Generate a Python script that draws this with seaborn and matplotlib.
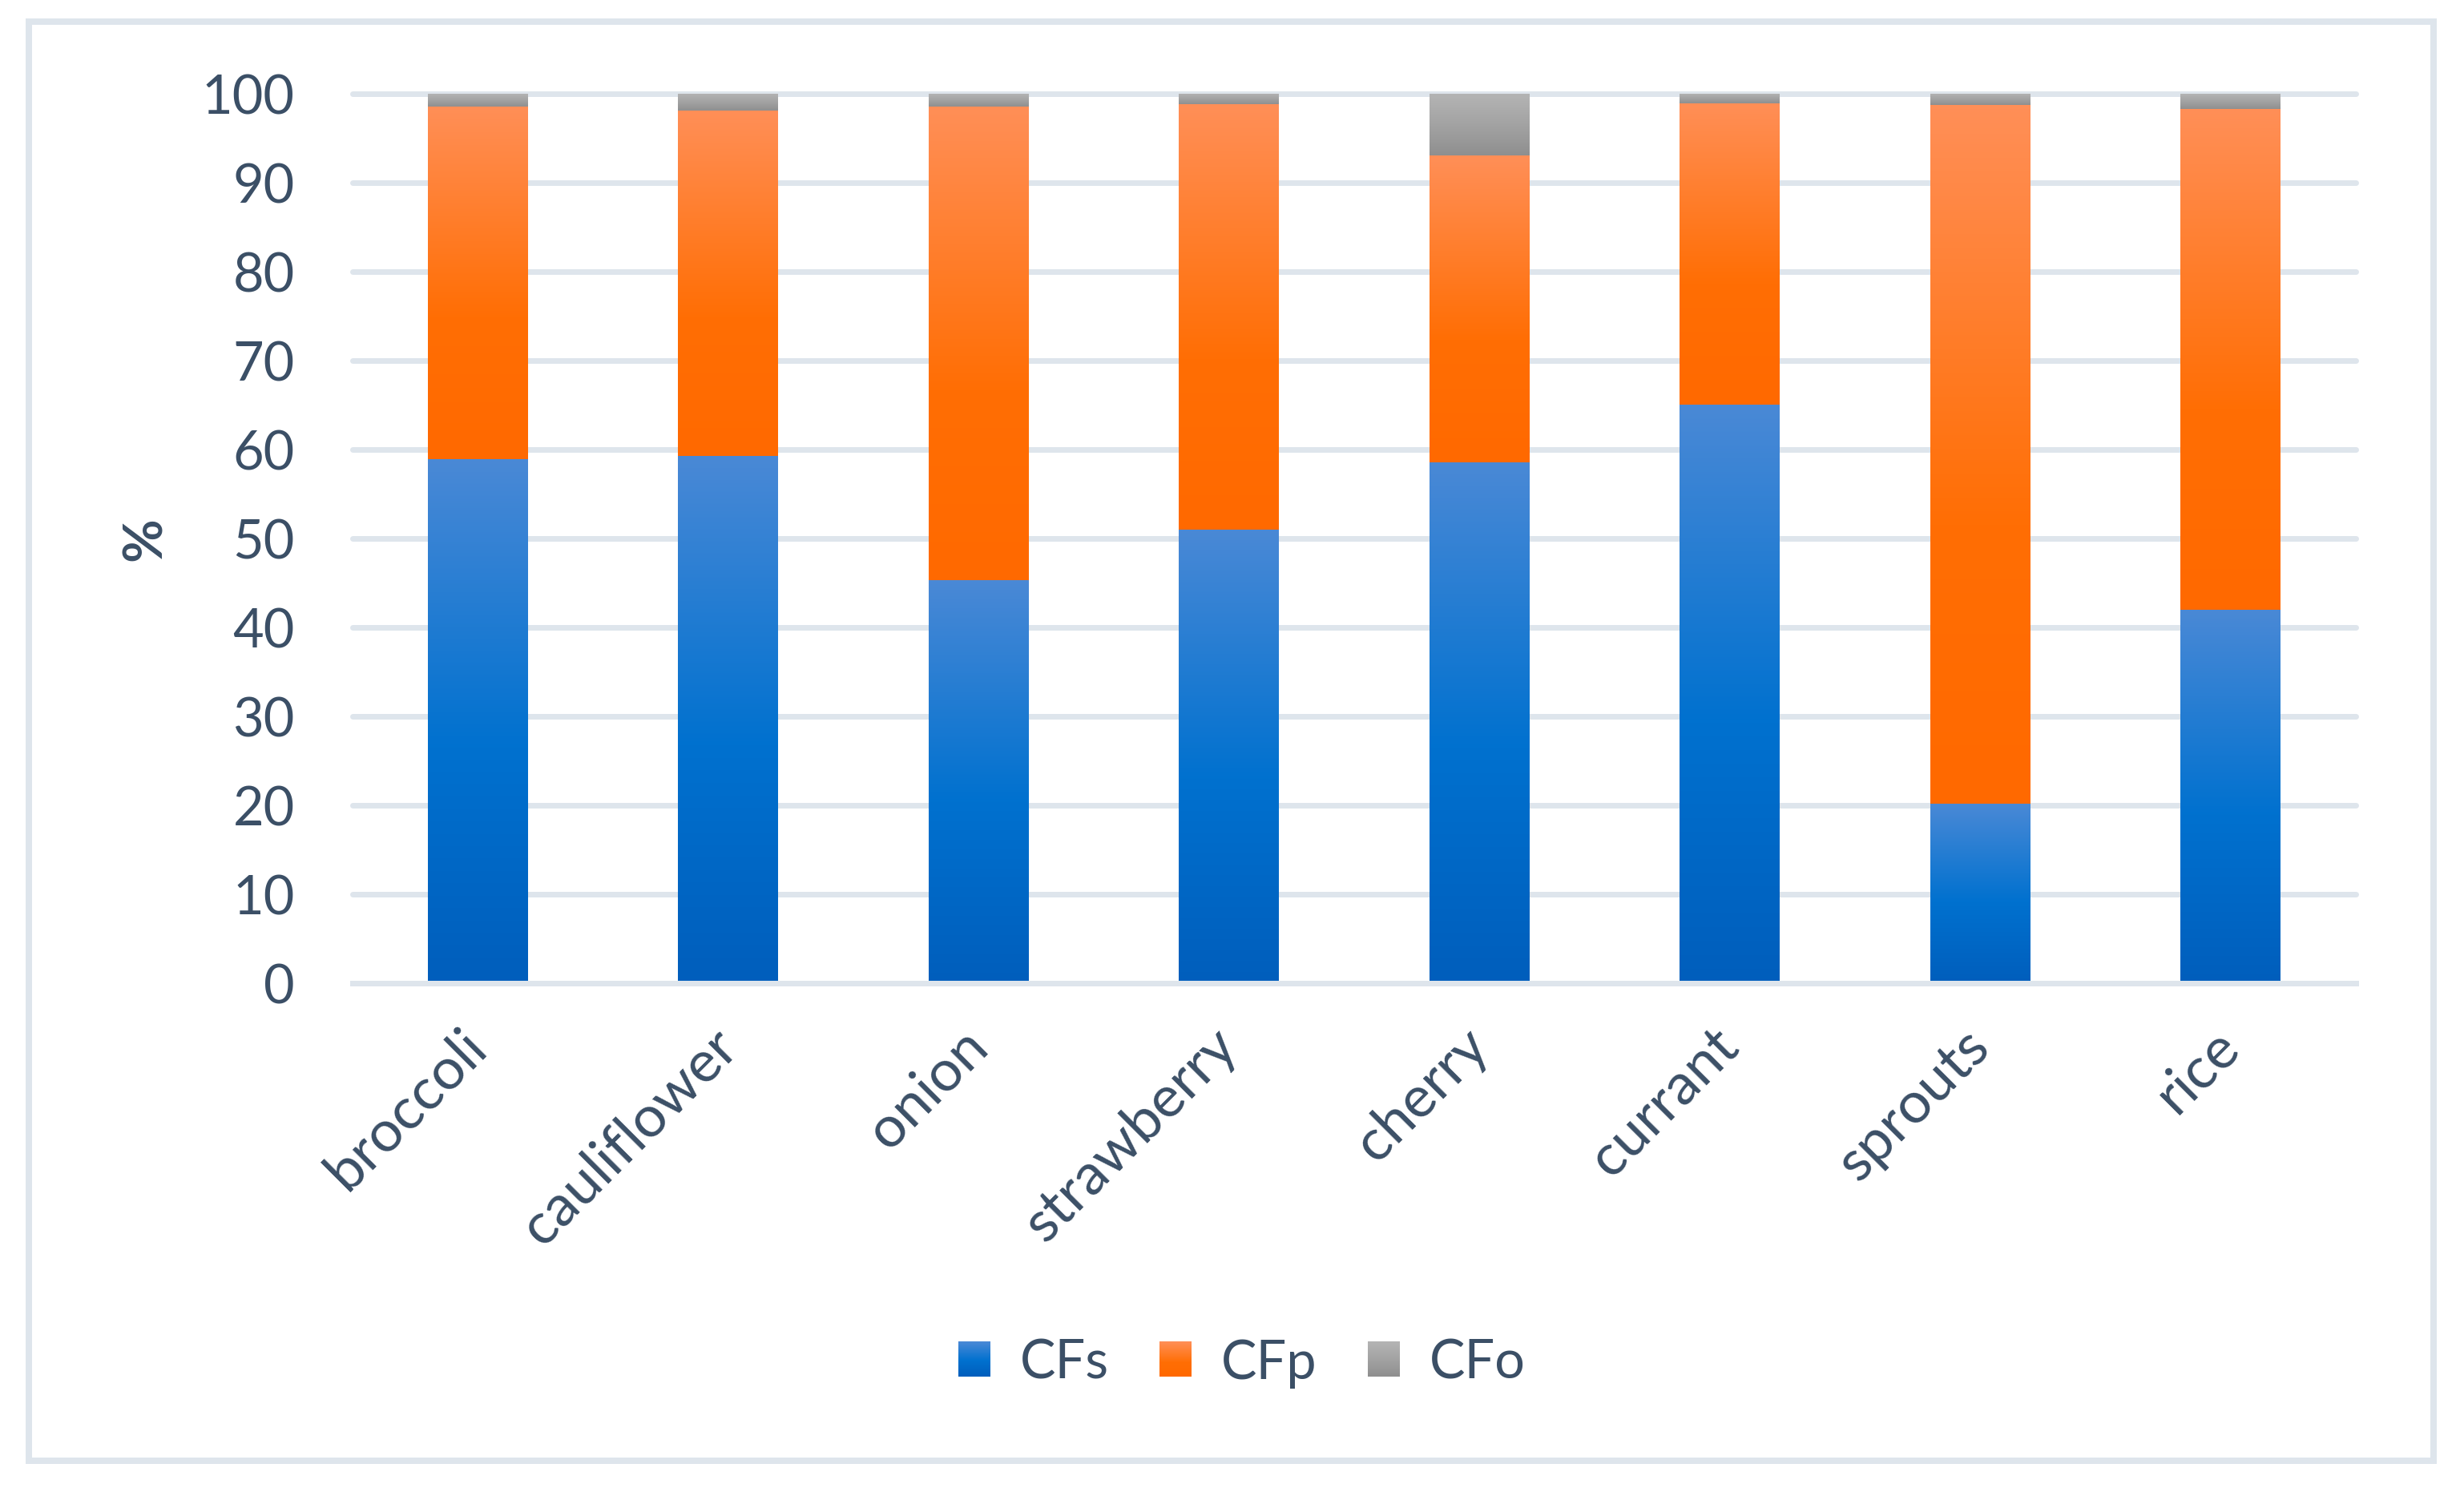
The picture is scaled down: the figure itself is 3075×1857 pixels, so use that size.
import numpy as np
import matplotlib
matplotlib.use("Agg")
import matplotlib.pyplot as plt
import seaborn as sns
from matplotlib.colors import LinearSegmentedColormap
from matplotlib.legend_handler import HandlerBase
from matplotlib.image import BboxImage
from matplotlib.transforms import Bbox, TransformedBbox
from matplotlib.patches import Rectangle

# values (%)
foods = ["broccoli", "cauliflower", "onion", "strawberry", "cherry", "currant", "sprouts", "rice"]
cfs = [58.9, 59.3, 45.3, 51.0, 58.6, 65.0, 20.2, 42.0]
cfp = [39.7, 38.8, 53.3, 47.8, 34.5, 33.9, 78.5, 56.3]
cfo = [1.4, 1.9, 1.4, 1.2, 6.9, 1.1, 1.3, 1.7]
series = ["CFs", "CFp", "CFo"]

# gradient stops, bottom -> top
blue_stops = [(0.0, "#005ebc"), (0.45, "#0071cf"), (1.0, "#4a89d6")]
orange_stops = [(0.0, "#ff6900"), (0.4, "#ff6e04"), (1.0, "#ff8f57")]
grey_stops = [(0.0, "#8f8f8f"), (0.5, "#a3a3a3"), (1.0, "#b4b4b4")]

text_col = "#3b4f66"
grid_col = "#dee5ec"
px = 72 / 200  # points per pixel at dpi 200

sns.set_theme(style="white")
plt.rcParams["font.family"] = ["Lato", "DejaVu Sans"]

fig = plt.figure(figsize=(15.375, 9.29), dpi=200)
ax = fig.add_axes([0.1431, 0.3391, 0.8130, 0.5974])
ax.set_axisbelow(True)


def add_gradient(ax, container, stops):
    cmap = LinearSegmentedColormap.from_list("g", stops)
    grad = np.linspace(0, 1, 256).reshape(-1, 1)
    for bar in container.patches:
        x, y = bar.get_x(), bar.get_y()
        w, h = bar.get_width(), bar.get_height()
        ax.imshow(grad, cmap=cmap, origin="lower", aspect="auto",
                  extent=[x, x + w, y, y + h], zorder=1.2, interpolation="bilinear")
    return cmap


# stacked bars
bottom2 = [a + b for a, b in zip(cfs, cfp)]
sns.barplot(x=foods, y=cfs, color=blue_stops[1][1], saturation=1, width=0.4,
            linewidth=0, errorbar=None, ax=ax)
cmap_b = add_gradient(ax, ax.containers[-1], blue_stops)
sns.barplot(x=foods, y=cfp, bottom=cfs, color=orange_stops[1][1], saturation=1, width=0.4,
            linewidth=0, errorbar=None, ax=ax)
cmap_o = add_gradient(ax, ax.containers[-1], orange_stops)
sns.barplot(x=foods, y=cfo, bottom=bottom2, color=grey_stops[1][1], saturation=1, width=0.4,
            linewidth=0, errorbar=None, ax=ax)
cmap_g = add_gradient(ax, ax.containers[-1], grey_stops)

ax.set_xlim(-0.5, 7.5)
ax.set_ylim(0, 100)
ax.set_yticks(range(0, 101, 10))
ax.yaxis.grid(True, color=grid_col, linewidth=7 * px)
for gl in ax.yaxis.get_gridlines():
    gl.set_clip_on(False)
for s in ["top", "right", "left"]:
    ax.spines[s].set_visible(False)
ax.spines["bottom"].set_color(grid_col)
ax.spines["bottom"].set_linewidth(7 * px)
ax.spines["bottom"].set_zorder(3)

ax.tick_params(axis="y", length=0, pad=26, labelsize=24, labelcolor=text_col)
ax.tick_params(axis="x", length=0, pad=24, labelsize=26, labelcolor=text_col)
plt.setp(ax.get_xticklabels(), rotation=45, ha="right", va="center", rotation_mode="anchor")

ax.set_ylabel("%", fontsize=24, fontweight="bold", color=text_col)
ax.yaxis.set_label_coords(-0.091, 0.5)


class GradientHandler(HandlerBase):
    def __init__(self, cmap):
        super().__init__()
        self.cmap = cmap

    def create_artists(self, legend, orig_handle, xdescent, ydescent, width, height, fontsize, trans):
        bb = TransformedBbox(Bbox.from_bounds(-xdescent, -ydescent, width, height), trans)
        img = BboxImage(bb, cmap=self.cmap, origin="lower", interpolation="bilinear")
        img.set_data(np.linspace(0, 1, 64).reshape(-1, 1))
        return [img]


handles = [Rectangle((0, 0), 1, 1) for _ in series]
hmap = {h: GradientHandler(c) for h, c in zip(handles, [cmap_b, cmap_o, cmap_g])}
fig.legend(handles, series, handler_map=hmap, loc="center", bbox_to_anchor=(0.504, 0.084),
           ncol=3, frameon=False, fontsize=24, handlelength=0.6, handleheight=0.63,
           handletextpad=0.55, columnspacing=0.95, labelcolor=text_col)

# outer chart border
fig.patches.append(Rectangle((36 / 3075, 1 - 1823.5 / 1858), (3037 - 36) / 3075, (1823.5 - 28) / 1858,
                             transform=fig.transFigure, fill=False, edgecolor=grid_col,
                             linewidth=8 * px))

fig.savefig("out.png", dpi=200)
